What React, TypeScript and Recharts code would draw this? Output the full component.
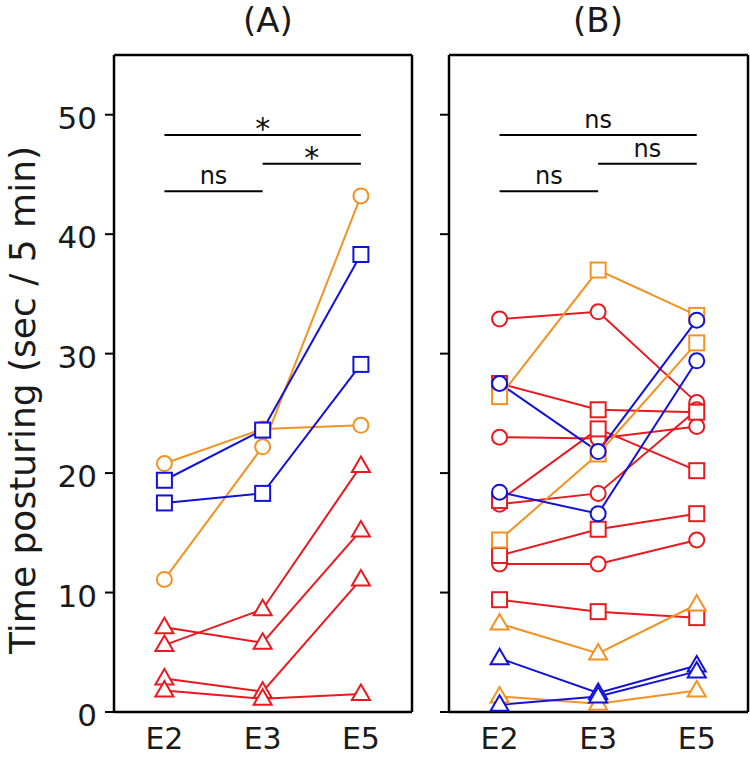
import React from 'react';
import { LineChart, Line, XAxis, YAxis, ReferenceLine } from 'recharts';

const FONT = '"DejaVu Sans", sans-serif';
const RED = '#E8191F';
const ORANGE = '#F39121';
const BLUE = '#1212D6';

const categories = ['E2', 'E3', 'E5'];
const yTicks = [0, 10, 20, 30, 40, 50];

// (A) values at E2, E3, E5
const aOrangeCircle1 = [20.8, 23.7, 24.0];
const aOrangeCircle2 = [11.1, 22.2, 43.2];
const aBlueSquare1 = [19.4, 23.6, 38.3];
const aBlueSquare2 = [17.5, 18.3, 29.1];
const aRedTriangle1 = [7.1, 5.8, 15.2];
const aRedTriangle2 = [5.6, 8.6, 20.6];
const aRedTriangle3 = [2.8, 1.7, 11.1];
const aRedTriangle4 = [1.8, 1.1, 1.5];

// (B) values at E2, E3, E5
const bRedCircle1 = [32.9, 33.5, 25.9];
const bRedCircle2 = [23.0, 22.9, 23.9];
const bRedCircle3 = [17.4, 18.3, 25.3];
const bRedCircle4 = [12.4, 12.4, 14.4];
const bRedSquare1 = [27.5, 25.3, 25.1];
const bRedSquare2 = [17.7, 23.7, 20.2];
const bRedSquare3 = [13.1, 15.3, 16.6];
const bRedSquare4 = [9.4, 8.4, 7.9];
const bOrangeSquare1 = [26.4, 37.0, 33.2];
const bOrangeSquare2 = [14.4, 21.6, 30.9];
const bOrangeTriangle1 = [7.4, 4.9, 9.0];
const bOrangeTriangle2 = [1.3, 0.7, 1.8];
const bBlueCircle1 = [27.5, 21.8, 32.8];
const bBlueCircle2 = [18.4, 16.6, 29.4];
const bBlueTriangle1 = [4.5, 1.6, 3.9];
const bBlueTriangle2 = [0.6, 1.3, 3.4];

// significance brackets: from/to category index (1-based), height, text
const sigBarsA = [
  { from: 1, to: 3, y: 48.3, text: '*' },
  { from: 2, to: 3, y: 45.9, text: '*' },
  { from: 1, to: 2, y: 43.6, text: 'ns' },
];
const sigBarsB = [
  { from: 1, to: 3, y: 48.3, text: 'ns' },
  { from: 2, to: 3, y: 45.9, text: 'ns' },
  { from: 1, to: 2, y: 43.6, text: 'ns' },
];

type Shape = 'circle' | 'square' | 'triangle';
interface Series { name: string; values: number[]; color: string; shape: Shape }

// drawn in order: red, then orange, then blue on top
const seriesA: Series[] = [
  { name: 'aRedTriangle1', values: aRedTriangle1, color: RED, shape: 'triangle' },
  { name: 'aRedTriangle2', values: aRedTriangle2, color: RED, shape: 'triangle' },
  { name: 'aRedTriangle3', values: aRedTriangle3, color: RED, shape: 'triangle' },
  { name: 'aRedTriangle4', values: aRedTriangle4, color: RED, shape: 'triangle' },
  { name: 'aOrangeCircle1', values: aOrangeCircle1, color: ORANGE, shape: 'circle' },
  { name: 'aOrangeCircle2', values: aOrangeCircle2, color: ORANGE, shape: 'circle' },
  { name: 'aBlueSquare1', values: aBlueSquare1, color: BLUE, shape: 'square' },
  { name: 'aBlueSquare2', values: aBlueSquare2, color: BLUE, shape: 'square' },
];

const seriesB: Series[] = [
  { name: 'bRedCircle1', values: bRedCircle1, color: RED, shape: 'circle' },
  { name: 'bRedCircle2', values: bRedCircle2, color: RED, shape: 'circle' },
  { name: 'bRedCircle3', values: bRedCircle3, color: RED, shape: 'circle' },
  { name: 'bRedCircle4', values: bRedCircle4, color: RED, shape: 'circle' },
  { name: 'bRedSquare1', values: bRedSquare1, color: RED, shape: 'square' },
  { name: 'bRedSquare2', values: bRedSquare2, color: RED, shape: 'square' },
  { name: 'bRedSquare3', values: bRedSquare3, color: RED, shape: 'square' },
  { name: 'bRedSquare4', values: bRedSquare4, color: RED, shape: 'square' },
  { name: 'bOrangeSquare1', values: bOrangeSquare1, color: ORANGE, shape: 'square' },
  { name: 'bOrangeSquare2', values: bOrangeSquare2, color: ORANGE, shape: 'square' },
  { name: 'bOrangeTriangle1', values: bOrangeTriangle1, color: ORANGE, shape: 'triangle' },
  { name: 'bOrangeTriangle2', values: bOrangeTriangle2, color: ORANGE, shape: 'triangle' },
  { name: 'bBlueCircle1', values: bBlueCircle1, color: BLUE, shape: 'circle' },
  { name: 'bBlueCircle2', values: bBlueCircle2, color: BLUE, shape: 'circle' },
  { name: 'bBlueTriangle1', values: bBlueTriangle1, color: BLUE, shape: 'triangle' },
  { name: 'bBlueTriangle2', values: bBlueTriangle2, color: BLUE, shape: 'triangle' },
];

const buildRows = (series: Series[]) =>
  categories.map((_, i) => {
    const row: Record<string, number> = { x: i + 1 };
    series.forEach((s) => { row[s.name] = s.values[i]; });
    return row;
  });

const makeDot = (shape: Shape, color: string) => (props: any) => {
  const { cx, cy, index, dataKey } = props;
  const key = `${dataKey}-${index}`;
  if (cx == null || cy == null) return <g key={key} />;
  const style = { stroke: color, strokeWidth: 2, fill: '#fff' };
  if (shape === 'circle') return <circle key={key} cx={cx} cy={cy} r={7.5} {...style} />;
  if (shape === 'square') return <rect key={key} x={cx - 7.5} y={cy - 7.5} width={15} height={15} {...style} />;
  return (
    <polygon
      key={key}
      points={`${cx},${cy - 9.5} ${cx - 9},${cy + 6} ${cx + 9},${cy + 6}`}
      {...style}
    />
  );
};

const xDomain = [0.487, 3.52];
const yDomain = [0, 55];
const frame = { stroke: '#000', strokeWidth: 2.5 };

interface PanelProps {
  series: Series[];
  bars: { from: number; to: number; y: number; text: string }[];
  width: number;
  marginLeft: number;
  marginRight: number;
  yAxisWidth: number;
  showYLabels: boolean;
}

const Panel: React.FC<PanelProps> = ({ series, bars, width, marginLeft, marginRight, yAxisWidth, showYLabels }) => (
  <LineChart
    width={width}
    height={757}
    data={buildRows(series)}
    margin={{ top: 55, right: marginRight, bottom: 5, left: marginLeft }}
  >
    <XAxis
      dataKey="x"
      type="number"
      domain={xDomain}
      ticks={[1, 2, 3]}
      tickFormatter={(v: number) => categories[v - 1]}
      allowDataOverflow
      tickLine={false}
      tickSize={0}
      tickMargin={16}
      height={40}
      axisLine={frame}
      tick={{ fontSize: 30, fill: '#1a1a1a', fontFamily: FONT }}
    />
    <YAxis
      type="number"
      domain={yDomain}
      ticks={yTicks}
      allowDataOverflow
      width={yAxisWidth}
      tickSize={9}
      tickMargin={8}
      tickLine={{ stroke: '#000', strokeWidth: 2 }}
      axisLine={frame}
      tickFormatter={showYLabels ? undefined : () => ''}
      tick={{ fontSize: 31, fill: '#1a1a1a', fontFamily: FONT, dy: 3 }}
    />
    {/* top and right sides of the frame */}
    <ReferenceLine y={yDomain[1]} stroke="#000" strokeWidth={2.5} />
    <ReferenceLine x={xDomain[1]} stroke="#000" strokeWidth={2.5} />
    {bars.map((b, i) => (
      <ReferenceLine
        key={`bar-${i}`}
        segment={[{ x: b.from, y: b.y }, { x: b.to, y: b.y }]}
        stroke="#000"
        strokeWidth={2}
        label={{
          value: b.text,
          position: 'top',
          offset: b.text === '*' ? -4 : 7,
          fontSize: b.text === '*' ? 30 : 24,
          fill: '#111',
          fontFamily: FONT,
        }}
      />
    ))}
    {series.map((s) => (
      <Line
        key={s.name}
        dataKey={s.name}
        stroke={s.color}
        strokeWidth={2}
        dot={makeDot(s.shape, s.color)}
        activeDot={false}
        isAnimationActive={false}
      />
    ))}
  </LineChart>
);

export default function App() {
  return (
    <div style={{ position: 'absolute', left: 0, top: 0, width: 750, height: 757, background: '#fff' }}>
      <div style={{ position: 'absolute', left: 0, top: 0 }}>
        <Panel series={seriesA} bars={sigBarsA} width={420} marginLeft={14} marginRight={8} yAxisWidth={100} showYLabels />
      </div>
      <div style={{ position: 'absolute', left: 420, top: 0 }}>
        <Panel series={seriesB} bars={sigBarsB} width={330} marginLeft={9} marginRight={2} yAxisWidth={20} showYLabels={false} />
      </div>
      <svg width={750} height={757} style={{ position: 'absolute', left: 0, top: 0, pointerEvents: 'none' }}>
        <text x={268} y={32} textAnchor="middle" fontSize={34} fontFamily={FONT} fill="#1a1a1a">(A)</text>
        <text x={598} y={32} textAnchor="middle" fontSize={34} fontFamily={FONT} fill="#1a1a1a">(B)</text>
        <text
          x={35}
          y={400}
          transform="rotate(-90 35 400)"
          textAnchor="middle"
          fontSize={36}
          fontFamily={FONT}
          fill="#1a1a1a"
        >
          Time posturing (sec / 5 min)
        </text>
      </svg>
    </div>
  );
}
